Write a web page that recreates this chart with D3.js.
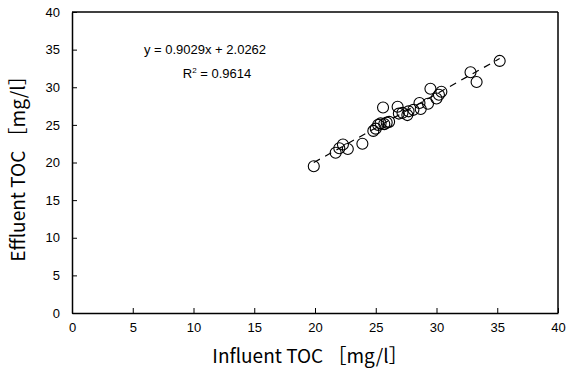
<!DOCTYPE html>
<html>
<head>
<meta charset="utf-8">
<script src="https://cdn.jsdelivr.net/npm/d3@7"></script>
<style>
  body { margin: 0; background: #fff; }
  svg { display: block; }
</style>
</head>
<body>
<div id="chart"></div>
<script>
// influent / effluent TOC pairs [mg/l]
const influent = [19.9, 21.7, 22.0, 22.3, 22.7, 23.9, 24.8, 25.0, 25.2, 25.4, 25.7, 25.9, 26.1,
  25.6, 26.8, 26.9, 27.2, 27.6, 27.7, 28.1, 28.6, 28.7, 29.3, 29.5, 30.0, 30.2, 30.4,
  32.8, 33.3, 35.2];
const effluent = [19.5, 21.3, 21.9, 22.4, 21.8, 22.5, 24.2, 24.5, 25.0, 25.2, 25.1, 25.3, 25.4,
  27.3, 27.4, 26.5, 26.6, 26.3, 26.8, 27.0, 27.9, 27.1, 27.8, 29.8, 28.5, 29.0, 29.4,
  32.0, 30.7, 33.5];
const slope = 0.9029;
const intercept = 2.0262;
const eqText = "y = 0.9029x + 2.0262";
const r2Text = "0.9614";
const xTicks = [0, 5, 10, 15, 20, 25, 30, 35, 40];
const yTicks = [0, 5, 10, 15, 20, 25, 30, 35, 40];

const width = 567, height = 375;
const margin = { top: 12, right: 9, bottom: 62, left: 72 };
const w = width - margin.left - margin.right;
const h = height - margin.top - margin.bottom;

const svg = d3.select("#chart").append("svg")
  .attr("width", width).attr("height", height);

const g = svg.append("g")
  .attr("transform", `translate(${margin.left},${margin.top})`);

const x = d3.scaleLinear().domain([0, 40]).range([0, w]);
const y = d3.scaleLinear().domain([0, 40]).range([h, 0]);

const tickFont = "Liberation Sans, Arial, sans-serif";

// axes with inward ticks
const xAxis = g.append("g")
  .attr("transform", `translate(0,${h})`)
  .call(d3.axisBottom(x).tickValues(xTicks).tickSizeInner(-5).tickSizeOuter(0).tickPadding(10));
const yAxis = g.append("g")
  .call(d3.axisLeft(y).tickValues(yTicks).tickSizeInner(-5).tickSizeOuter(0).tickPadding(12));

[xAxis, yAxis].forEach(a => {
  a.select(".domain").attr("stroke", "#000").attr("stroke-width", 1.5);
  a.selectAll(".tick line").attr("stroke", "#000");
  a.selectAll(".tick text")
    .attr("font-family", tickFont).attr("font-size", 13).attr("fill", "#000");
});

// frame top and right
g.append("line").attr("x1", 0).attr("x2", w).attr("y1", 0).attr("y2", 0)
  .attr("stroke", "#000").attr("stroke-width", 1.5);
g.append("line").attr("x1", w).attr("x2", w).attr("y1", 0).attr("y2", h)
  .attr("stroke", "#000").attr("stroke-width", 1.5);

// trend line
const x0 = d3.min(influent), x1 = d3.max(influent);
g.append("line")
  .attr("x1", x(x0)).attr("y1", y(slope * x0 + intercept))
  .attr("x2", x(x1)).attr("y2", y(slope * x1 + intercept))
  .attr("stroke", "#000").attr("stroke-width", 1.2)
  .attr("stroke-dasharray", "7,6");

// points
g.selectAll("circle.pt")
  .data(influent.map((v, i) => [v, effluent[i]]))
  .join("circle")
  .attr("class", "pt")
  .attr("cx", d => x(d[0]))
  .attr("cy", d => y(d[1]))
  .attr("r", 5.5)
  .attr("fill", "none")
  .attr("stroke", "#000")
  .attr("stroke-width", 1.1);

// equation
svg.append("text")
  .attr("x", 205).attr("y", 54)
  .attr("text-anchor", "middle")
  .attr("font-family", tickFont).attr("font-size", 13)
  .text(eqText);
const r2 = svg.append("text")
  .attr("x", 217).attr("y", 78)
  .attr("text-anchor", "middle")
  .attr("font-family", tickFont).attr("font-size", 13);
r2.append("tspan").text("R");
r2.append("tspan").attr("font-size", 8).attr("dy", -5).text("2");
r2.append("tspan").attr("dy", 5).text(" = " + r2Text);

// axis titles
const titleFont = "Noto Sans CJK JP, sans-serif";
svg.append("text")
  .attr("x", 310).attr("y", 363)
  .attr("text-anchor", "middle")
  .attr("font-family", titleFont).attr("font-size", 19)
  .text("Influent TOC ［mg/l］");
svg.append("text")
  .attr("transform", `translate(25,164) rotate(-90)`)
  .attr("text-anchor", "middle")
  .attr("font-family", titleFont).attr("font-size", 19)
  .text("Effluent TOC ［mg/l］");
</script>
</body>
</html>
